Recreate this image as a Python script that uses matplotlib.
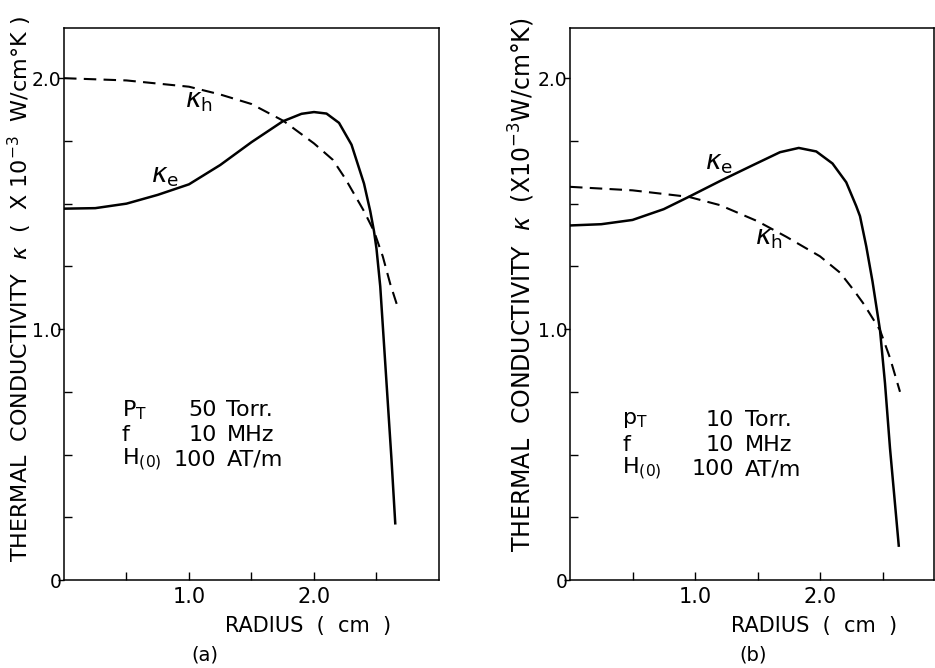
import matplotlib
matplotlib.use('Agg')
import matplotlib.pyplot as plt
from matplotlib.ticker import FixedLocator

plt.rcParams['font.family'] = ['DejaVu Sans']
plt.rcParams['mathtext.fontset'] = 'dejavusans'

# (a) 50 Torr
r_a_e = [0, 0.25, 0.5, 0.75, 1.0, 1.25, 1.5, 1.75, 1.9, 2.0, 2.1, 2.2, 2.3,
         2.4, 2.45, 2.48, 2.5, 2.53, 2.56, 2.59, 2.62, 2.65]
k_a_e = [1.48, 1.482, 1.50, 1.535, 1.577, 1.654, 1.745, 1.828, 1.858, 1.865,
         1.859, 1.822, 1.735, 1.58, 1.47, 1.39, 1.32, 1.17, 0.94, 0.71, 0.48, 0.226]
r_a_h = [0, 0.5, 1.0, 1.25, 1.5, 1.755, 2.0, 2.15, 2.25, 2.4, 2.48, 2.55, 2.61, 2.67]
k_a_h = [2.0, 1.991, 1.966, 1.935, 1.897, 1.83, 1.74, 1.675, 1.60, 1.47, 1.39,
         1.29, 1.18, 1.087]

# (b) 10 Torr
r_b_e = [0, 0.25, 0.5, 0.75, 0.95, 1.2, 1.47, 1.68, 1.83, 1.97, 2.1, 2.21,
         2.29, 2.32, 2.37, 2.42, 2.48, 2.52, 2.56, 2.63]
k_b_e = [1.413, 1.418, 1.435, 1.478, 1.527, 1.59, 1.655, 1.705, 1.722, 1.708,
         1.66, 1.585, 1.49, 1.45, 1.33, 1.19, 0.996, 0.784, 0.525, 0.137]
r_b_h = [0, 0.5, 0.95, 1.2, 1.5, 1.73, 2.0, 2.16, 2.27, 2.35, 2.48, 2.56, 2.64]
k_b_h = [1.567, 1.553, 1.527, 1.494, 1.43, 1.368, 1.29, 1.225, 1.155, 1.10,
         0.996, 0.885, 0.75]

cond_a = [('P$_\\mathregular{T}$', '50', 'Torr.'),
          ('f', '10', 'MHz'),
          ('H$_\\mathregular{(0)}$', '100', 'AT/m')]
cond_b = [('p$_\\mathregular{T}$', '10', 'Torr.'),
          ('f', '10', 'MHz'),
          ('H$_\\mathregular{(0)}$', '100', 'AT/m')]

ylab_a = 'THERMAL  CONDUCTIVITY  $\\kappa$  (  X 10$^{-3}$  W/cm°K )'
ylab_b = 'THERMAL  CONDUCTIVITY  $\\kappa$  (X10$^{-3}$W/cm°K)'

fig = plt.figure(figsize=(9.35, 6.68), dpi=100)
ax_a = fig.add_axes([64/935, 88/668, 375/935, 552/668])
ax_b = fig.add_axes([570/935, 88/668, 364/935, 552/668])


def setup(ax, xmax):
    ax.set_xlim(0, xmax)
    ax.set_ylim(0, 2.2)
    for s in ax.spines.values():
        s.set_linewidth(1.1)
    ax.xaxis.set_major_locator(FixedLocator([1.0, 2.0]))
    ax.xaxis.set_minor_locator(FixedLocator([0.5, 1.5, 2.5]))
    ax.set_xticklabels(['1.0', '2.0'])
    ax.yaxis.set_major_locator(FixedLocator([0, 1.0, 2.0]))
    ax.yaxis.set_minor_locator(FixedLocator([0.25, 0.5, 0.75, 1.25, 1.5, 1.75]))
    ax.set_yticklabels(['0', '1.0', '2.0'])
    ax.tick_params(axis='x', which='both', direction='in', length=6, width=1,
                   labelsize=15, pad=5)
    ax.tick_params(axis='y', which='major', direction='out', length=4, width=1,
                   labelsize=13.5, pad=-2)
    ax.tick_params(axis='y', which='minor', direction='in', length=6, width=1)
    ax.set_xlabel('RADIUS  (  cm  )', fontsize=15, labelpad=4)


def conditions(ax, rows, xl, xn, xu, ys):
    for (name, num, unit), y in zip(rows, ys):
        ax.text(xl, y, name, fontsize=16, va='center', ha='left')
        ax.text(xn, y, num, fontsize=16, va='center', ha='right')
        ax.text(xu, y, unit, fontsize=16, va='center', ha='left')


setup(ax_a, 3.0)
ax_a.plot(r_a_e, k_a_e, color='black', lw=1.8)
ax_a.plot(r_a_h, k_a_h, color='black', lw=1.5, dashes=(6, 3.5))
ax_a.text(1.08, 1.91, '$\\kappa_\\mathregular{h}$', fontsize=19, ha='center', va='center')
ax_a.text(0.81, 1.61, '$\\kappa_\\mathregular{e}$', fontsize=19, ha='center', va='center')
conditions(ax_a, cond_a, 0.46, 1.22, 1.30, [0.676, 0.577, 0.479])
ax_a.xaxis.set_label_coords(0.65, -0.065)

setup(ax_b, 364/125)
ax_b.plot(r_b_e, k_b_e, color='black', lw=1.8)
ax_b.plot(r_b_h, k_b_h, color='black', lw=1.5, dashes=(6, 3.5))
ax_b.text(1.19, 1.66, '$\\kappa_\\mathregular{e}$', fontsize=19, ha='center', va='center')
ax_b.text(1.59, 1.365, '$\\kappa_\\mathregular{h}$', fontsize=19, ha='center', va='center')
conditions(ax_b, cond_b, 0.42, 1.31, 1.40, [0.639, 0.539, 0.442])
ax_b.xaxis.set_label_coords((814 - 570) / 364, -0.065)

fig.text(20/935, 1 - 562/668, ylab_a, rotation=90, fontsize=16,
         ha='center', va='bottom')
fig.text(522/935, 1 - 552/668, ylab_b, rotation=90, fontsize=17,
         ha='center', va='bottom')

fig.text(205/935, 1 - 655/668, '(a)', fontsize=14, ha='center', va='center')
fig.text(753/935, 1 - 655/668, '(b)', fontsize=14, ha='center', va='center')

fig.savefig('out.png', dpi=100)
